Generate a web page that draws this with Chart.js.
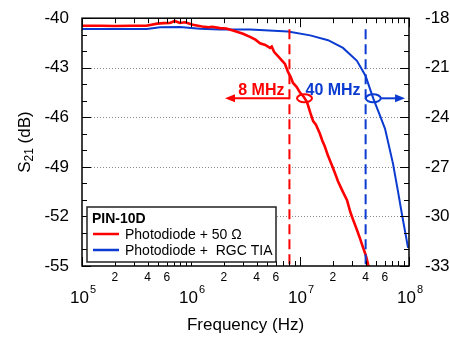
<!DOCTYPE html>
<html>
<head>
<meta charset="utf-8">
<script src="https://cdn.jsdelivr.net/npm/chart.js@4.4.1/dist/chart.umd.min.js"></script>
<style>
  html, body { margin: 0; padding: 0; background: #fff; }
  #wrap { width: 450px; height: 343px; }
</style>
</head>
<body>
<div id="wrap"><canvas id="s21Chart"></canvas></div>
<script>
// Photodiode + 50 ohm (left axis, dB)
const redFreq = [1e5, 1.5e5, 2e5, 2.8e5, 3.9e5, 4.9e5, 5.6e5, 6.4e5, 7.1e5, 7.9e5, 8.8e5,
  1.04e6, 1.26e6, 1.45e6, 1.56e6, 1.85e6, 2.1e6, 2.43e6, 3e6, 3.48e6, 3.9e6, 4.3e6, 4.8e6,
  5.31e6, 5.5e6, 5.8e6, 6.28e6, 6.8e6, 7.28e6, 7.76e6, 8.2e6, 8.63e6, 9.3e6,
  1e7, 1.08e7, 1.16e7, 1.24e7, 1.32e7, 1.4e7, 1.52e7, 1.6e7, 1.69e7, 1.8e7, 1.97e7,
  2.1e7, 2.23e7, 2.45e7, 2.7e7, 2.9e7, 3.06e7, 3.3e7, 3.55e7, 3.75e7, 3.94e7, 4.05e7, 4.21e7, 4.3e7];
const redDb = [-40.46, -40.46, -40.47, -40.46, -40.46, -40.33, -40.30, -40.29, -40.17, -40.29, -40.25,
  -40.40, -40.50, -40.55, -40.52, -40.60, -40.62, -40.75, -40.94, -41.13, -41.30, -41.52, -41.62,
  -41.80, -41.72, -42.05, -42.29, -42.55, -42.77, -43.25, -43.55, -43.92, -44.15,
  -44.50, -44.75, -45.08, -45.70, -46.23, -46.45, -46.98, -47.40, -47.77, -48.30, -48.93,
  -49.40, -49.87, -50.45, -51.02, -51.75, -52.18, -52.75, -53.33, -53.80, -54.20, -54.45, -54.90, -55.10];

// Photodiode + RGC TIA (right axis, dB)
const blueFreq = [1e5, 2e5, 3.94e5, 5.2e5, 7.9e5, 1.21e6, 1.85e6, 3.48e6, 7.76e6, 1.24e7, 1.81e7,
  2.48e7, 3.33e7, 4e7, 4.37e7, 4.7e7, 5.42e7, 6.03e7, 7.13e7, 7.93e7, 8.63e7, 9.8e7];
const blueDb = [-18.65, -18.65, -18.65, -18.55, -18.53, -18.64, -18.68, -18.69, -18.81, -19.04, -19.33,
  -19.80, -20.58, -21.50, -22.25, -22.85, -23.90, -24.70, -26.80, -28.50, -29.90, -31.90];

const seriesLabels = ['Photodiode + 50 \u03A9', 'Photodiode +  RGC TIA'];
const legendTitle = 'PIN-10D';

const decades = [5, 6, 7, 8];
const minorLabels = [2, 4, 6];
const leftTicks = [-40, -43, -46, -49, -52, -55];
const rightTicks = [-18, -21, -24, -27, -30, -33];

// bandwidth markers
const cutoffFreq = [8e6, 4e7];
const cutoffText = ['8 MHz', '40 MHz'];
const markerFreq = [1.1e7, 4.7e7];
const markerDb = -44.85;
const arrowEnd = [2.05e6, 9.2e7];

const RED = '#ff0000';
const BLUE = '#0b3bd1';
const FONT = '"Liberation Sans", Arial, sans-serif';

function arrowHead(ctx, x, y, dir) {
  ctx.beginPath();
  ctx.moveTo(x, y);
  ctx.lineTo(x - dir * 10, y - 4);
  ctx.lineTo(x - dir * 10, y + 4);
  ctx.closePath();
  ctx.fill();
}

const decor = {
  id: 'decor',
  beforeDatasetsDraw(chart) {
    const { ctx, chartArea: a, scales: { y } } = chart;
    ctx.save();
    ctx.strokeStyle = '#8a8a8a';
    ctx.lineWidth = 1;
    ctx.setLineDash([1, 2]);
    leftTicks.forEach(v => {
      if (v === y.max || v === y.min) return;
      const py = Math.round(y.getPixelForValue(v)) + 0.5;
      ctx.beginPath(); ctx.moveTo(a.left, py); ctx.lineTo(a.right, py); ctx.stroke();
    });
    ctx.restore();
  },
  afterDatasetsDraw(chart) {
    const { ctx, chartArea: a, scales: { x, y } } = chart;
    const my = y.getPixelForValue(markerDb);
    ctx.save();
    [RED, BLUE].forEach((col, i) => {
      const cx = x.getPixelForValue(cutoffFreq[i]);
      ctx.strokeStyle = col; ctx.fillStyle = col; ctx.lineWidth = 2;
      // dashed cutoff line
      ctx.setLineDash([10, 5]);
      ctx.beginPath(); ctx.moveTo(cx, a.top + 11); ctx.lineTo(cx, a.bottom); ctx.stroke();
      ctx.setLineDash([]);
      // label
      ctx.font = 'bold 16px ' + FONT;
      ctx.textAlign = 'right'; ctx.textBaseline = 'alphabetic';
      ctx.fillText(cutoffText[i], cx - 5, my - 3);
      // ellipse on the curve
      const ex = x.getPixelForValue(markerFreq[i]);
      ctx.beginPath(); ctx.ellipse(ex, my, 7.5, 4, 0, 0, Math.PI * 2); ctx.stroke();
      // arrow
      const ax = x.getPixelForValue(arrowEnd[i]);
      const start = i === 0 ? cx : ex + 7.5;
      const dir = ax > start ? 1 : -1;
      ctx.beginPath(); ctx.moveTo(start, my); ctx.lineTo(ax - dir * 8, my); ctx.stroke();
      arrowHead(ctx, ax, my, dir);
    });
    ctx.restore();
  },
  afterDraw(chart) {
    const { ctx, chartArea: a, scales: { x, y, y2 } } = chart;
    ctx.save();
    // frame
    ctx.strokeStyle = '#000'; ctx.lineWidth = 1.5;
    ctx.strokeRect(a.left, a.top, a.right - a.left, a.bottom - a.top);
    // inward ticks
    ctx.lineWidth = 1;
    x.ticks.forEach(t => {
      const px = Math.round(x.getPixelForValue(t.value)) + 0.5;
      const len = t.major ? 9 : 5;
      ctx.beginPath();
      ctx.moveTo(px, a.bottom); ctx.lineTo(px, a.bottom - len);
      ctx.moveTo(px, a.top); ctx.lineTo(px, a.top + len);
      ctx.stroke();
    });
    y.ticks.forEach(t => {
      const py = Math.round(y.getPixelForValue(t.value)) + 0.5;
      const len = leftTicks.includes(t.value) ? 9 : 5;
      ctx.beginPath(); ctx.moveTo(a.left, py); ctx.lineTo(a.left + len, py); ctx.stroke();
    });
    y2.ticks.forEach(t => {
      const py = Math.round(y2.getPixelForValue(t.value)) + 0.5;
      const len = rightTicks.includes(t.value) ? 9 : 5;
      ctx.beginPath(); ctx.moveTo(a.right, py); ctx.lineTo(a.right - len, py); ctx.stroke();
    });
    // decade labels 10^n
    ctx.fillStyle = '#000';
    ctx.textBaseline = 'alphabetic'; ctx.textAlign = 'left';
    decades.forEach(e => {
      const px = x.getPixelForValue(Math.pow(10, e));
      ctx.font = '17px ' + FONT;
      const w10 = ctx.measureText('10').width;
      ctx.font = '11px ' + FONT;
      const wExp = ctx.measureText(String(e)).width;
      const start = px - (w10 + 1 + wExp) / 2 + 1;
      ctx.font = '17px ' + FONT;
      ctx.fillText('10', start, 303);
      ctx.font = '11px ' + FONT;
      ctx.fillText(String(e), start + w10 + 1, 293);
    });
    // x title
    ctx.font = '17px ' + FONT;
    ctx.textAlign = 'center';
    ctx.fillText('Frequency (Hz)', (a.left + a.right) / 2, 330);
    // y title with subscript
    ctx.save();
    ctx.translate(0, (a.top + a.bottom) / 2);
    ctx.rotate(-Math.PI / 2);
    ctx.textAlign = 'left';
    ctx.font = '17px ' + FONT;
    const wS = ctx.measureText('S').width;
    const wRest = ctx.measureText(' (dB)').width;
    ctx.font = '12px ' + FONT;
    const wSub = ctx.measureText('21').width;
    let tx = -(wS + wSub + wRest) / 2;
    ctx.font = '17px ' + FONT;
    ctx.fillText('S', tx, 30);
    ctx.font = '12px ' + FONT;
    ctx.fillText('21', tx + wS, 33);
    ctx.font = '17px ' + FONT;
    ctx.fillText(' (dB)', tx + wS + wSub, 30);
    ctx.restore();
    // legend
    const lx = a.left + 5, lb = a.bottom - 4, lw = 189, lh = 55, lt = lb - lh;
    ctx.fillStyle = '#fff';
    ctx.fillRect(lx, lt, lw, lh);
    ctx.strokeStyle = '#222'; ctx.lineWidth = 1.5;
    ctx.strokeRect(lx, lt, lw, lh);
    ctx.fillStyle = '#000';
    ctx.textAlign = 'left';
    ctx.font = 'bold 14px ' + FONT;
    ctx.fillText(legendTitle, lx + 5, lt + 16);
    chart.data.datasets.forEach((ds, i) => {
      const ry = lt + 27 + i * 16;
      ctx.strokeStyle = ds.borderColor; ctx.lineWidth = 2.5;
      ctx.beginPath(); ctx.moveTo(lx + 6, ry); ctx.lineTo(lx + 32, ry); ctx.stroke();
      ctx.font = '14px ' + FONT;
      ctx.fillText(ds.label, lx + 38, ry + 5);
    });
    ctx.restore();
  }
};

new Chart(document.getElementById('s21Chart').getContext('2d'), {
  type: 'line',
  data: {
    datasets: [
      { label: seriesLabels[0], data: redFreq.map((f, i) => ({ x: f, y: redDb[i] })),
        borderColor: RED, borderWidth: 2.6, pointRadius: 0, yAxisID: 'y' },
      { label: seriesLabels[1], data: blueFreq.map((f, i) => ({ x: f, y: blueDb[i] })),
        borderColor: BLUE, borderWidth: 2, pointRadius: 0, yAxisID: 'y2' }
    ]
  },
  options: {
    responsive: true,
    maintainAspectRatio: false,
    animation: false,
    layout: { padding: { top: 6, left: 0, right: 0, bottom: 0 } },
    plugins: { legend: { display: false }, tooltip: { enabled: false } },
    scales: {
      x: {
        type: 'logarithmic', min: 1e5, max: 1e8,
        grid: { display: false }, border: { display: false },
        afterBuildTicks: scale => {
          const t = [];
          decades.forEach(e => {
            for (let m = 1; m < 10; m++) {
              const v = m * Math.pow(10, e);
              if (v <= 1e8) t.push({ value: v, major: m === 1 });
            }
          });
          scale.ticks = t;
        },
        afterFit: scale => { scale.height = 77; },
        ticks: {
          autoSkip: false, maxRotation: 0, padding: -4, color: '#000',
          font: { family: FONT, size: 12 },
          callback: v => {
            const m = Math.round(v / Math.pow(10, Math.floor(Math.log10(v) + 1e-9)));
            return minorLabels.includes(m) ? String(m) : '';
          }
        }
      },
      y: {
        position: 'left', min: -55, max: -40,
        grid: { display: false }, border: { display: false },
        afterFit: scale => { scale.width = 82; },
        ticks: {
          stepSize: 1, autoSkip: false, padding: 5, color: '#000',
          font: { family: FONT, size: 17 },
          callback: v => leftTicks.includes(v) ? String(v) : ''
        }
      },
      y2: {
        position: 'right', min: -33, max: -18,
        grid: { display: false }, border: { display: false },
        afterFit: scale => { scale.width = 41; },
        ticks: {
          stepSize: 1, autoSkip: false, padding: 8, color: '#000',
          font: { family: FONT, size: 17 },
          callback: v => rightTicks.includes(v) ? String(v) : ''
        }
      }
    }
  },
  plugins: [decor]
});
</script>
</body>
</html>
